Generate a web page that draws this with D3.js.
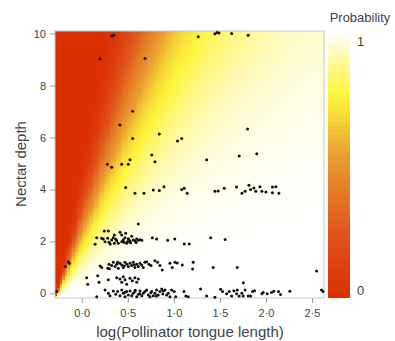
<!DOCTYPE html>
<html>
<head>
<meta charset="utf-8">
<script src="https://cdn.jsdelivr.net/npm/d3@7"></script>
<style>
  body { margin: 0; background: #fff; }
  text { font-family: "Liberation Sans", Arial, sans-serif; fill: #444; }
</style>
</head>
<body>
<svg id="chart" width="395" height="341"></svg>
<script>
// tick values
const xTicks = [0, 0.5, 1, 1.5, 2, 2.5];
const yTicks = [0, 2, 4, 6, 8, 10];

// colour ramp of the probability legend (0 = red, 1 = white)
const colorStops = [0, 0.25, 0.55, 0.68, 0.77, 0.88, 0.96, 1];
const colorValues = ["#dc2f02", "#e0561c", "#eaa030", "#f6d836", "#fff53c", "#fff890", "#fffcd8", "#ffffff"];

// fitted surface: probability as a function of the tongue/depth ratio seen from a corner point
const fitOrigin = [-0.28, -0.15];
const fitScale = 0.338;
const fitShape = 2.76;
const aspect = 3.546;

// observations [log tongue length, nectar depth]
const pointsUpper = [[0.325,9.91],[0.347,9.94],[0.2,9.03],[0.687,9.04],[1.265,9.88],[1.446,9.99],[1.47,10.04],[1.49,10.02],[1.627,10.0],[1.807,9.94],
  [0.553,7.01],[0.415,6.48],[0.553,5.96],[0.842,6.13],[1.04,5.86],[1.085,5.96],[1.8,6.33],[0.76,5.33],[0.795,5.07],[1.356,5.14],[1.71,5.29],[1.9,5.37],
  [0.278,4.97],[0.325,4.85],[0.434,4.97],[0.506,4.97],[0.524,5.14]];
const pointsDepth4 = [[0.477,4.07],[0.578,3.85],[0.676,3.85],[0.777,3.98],[0.842,3.96],[0.893,4.1],[1.085,4.0],[1.113,4.05],[1.145,3.85],
  [1.446,3.93],[1.482,3.94],[1.547,4.05],[1.681,4.09],[1.739,3.85],[1.774,3.93],[1.815,4.16],[1.833,4.0],[1.869,4.06],[1.89,3.93],[1.934,4.1],
  [1.956,3.93],[2.0,3.9],[2.07,4.09],[2.07,3.87],[2.107,4.1],[2.14,3.85]];
const pointsDepth2 = [[0.245,2.4],[0.289,2.4],[0.163,2.14],[0.145,1.89],[0.234,2.09],[0.253,1.99],[0.282,2.12],[0.296,1.97],[0.325,2.05],[0.343,2.14],
  [0.354,1.93],[0.38,2.02],[0.416,2.35],[0.434,2.25],[0.451,2.06],[0.47,2.14],[0.488,1.93],[0.506,2.1],[0.524,2.02],[0.543,2.2],[0.56,2.05],
  [0.578,2.02],[0.597,2.09],[0.615,2.04],[0.633,2.06],[0.652,2.04],[0.434,1.99],[0.397,1.93],[0.354,2.25],[0.477,2.31],[0.614,2.67],[0.217,2.12],
  [0.31,1.9],[0.37,2.08],[0.46,1.97],[0.53,1.95],[0.59,1.96],[0.5,2.0],
  [0.766,2.14],[0.813,2.09],[0.933,2.04],[1.01,2.09],[1.113,1.9],[1.167,1.9],[1.4,2.14],[1.557,2.07]];
const pointsDepth1 = [[-0.18,1.03],[-0.145,1.22],[-0.134,1.16],
  [0.217,0.99],[0.282,0.97],[0.296,1.12],[0.325,1.07],[0.343,1.2],[0.361,1.03],[0.38,1.12],[0.397,0.97],[0.415,1.16],[0.434,1.09],[0.451,0.99],
  [0.47,1.2],[0.488,1.12],[0.506,1.03],[0.524,1.16],[0.543,1.07],[0.56,1.2],[0.578,0.99],[0.597,1.12],[0.615,1.03],[0.633,1.16],[0.652,1.09],
  [0.668,0.99],[0.686,1.2],[0.2,1.05],[0.39,1.2],[0.46,1.05],[0.57,1.1],[0.3,0.95],
  [0.705,1.22],[0.73,1.12],[0.752,1.07],[0.795,1.25],[0.824,1.2],[0.849,1.07],[0.874,0.9],[0.958,1.16],[0.983,0.99],[1.012,1.2],[1.037,1.17],
  [1.091,1.09],[1.21,1.2],[1.204,0.94],[1.427,0.99],[1.688,0.99],[2.55,0.86]];
const pointsDepthHalf = [[0.054,0.6],[0.065,0.35],[0.174,0.68],[0.188,0.43],[0.289,0.52],[0.38,0.6],[0.415,0.55],[0.434,0.43],[0.451,0.64],
  [0.47,0.52],[0.488,0.35],[0.524,0.58],[0.549,0.48],[0.578,0.6],[0.597,0.43],[0.615,0.55],[1.754,0.41]];
const pointsDepth0 = [[-0.27,0.07],
  [0.163,-0.13],[0.253,0.13],[0.289,0.0],[0.307,-0.09],[0.343,0.09],[0.369,-0.04],[0.39,0.07],[0.415,-0.09],[0.434,0.13],[0.451,0.0],[0.47,-0.13],
  [0.488,0.07],[0.506,-0.06],[0.524,0.09],[0.543,-0.09],[0.56,0.0],[0.578,0.07],[0.597,-0.13],[0.615,-0.04],[0.633,0.09],[0.652,-0.09],[0.668,0.0],
  [0.686,0.07],[0.58,0.12],[0.63,-0.02],[0.75,0.02],[0.81,-0.1],[0.88,-0.03],[0.47,0.04],
  [0.705,0.13],[0.722,-0.06],[0.741,-0.13],[0.759,0.07],[0.777,-0.09],[0.795,0.0],[0.813,0.13],[0.831,-0.06],[0.849,0.07],[0.868,0.17],[0.885,0.09],
  [0.904,0.13],[0.922,-0.06],[0.939,0.0],[0.958,-0.13],[0.976,0.13],[1.004,0.07],[1.02,-0.13],
  [1.11,0.07],[1.13,-0.1],[1.156,-0.13],[1.29,0.17],[1.356,-0.1],[1.446,-0.15],[1.508,0.16],[1.529,0.07],[1.573,-0.02],[1.601,0.07],[1.627,-0.1],
  [1.652,0.1],[1.681,-0.02],[1.688,0.13],[1.709,-0.1],[1.738,0.0],[1.752,-0.1],[1.774,0.13],[1.807,-0.1],[1.833,-0.1],[1.855,0.07],[1.876,0.1],
  [1.956,-0.02],[1.97,0.03],[2.013,-0.02],[2.06,0.03],[2.085,0.08],[2.136,0.07],[2.158,-0.05],[2.259,0.08],[2.603,0.13],[2.62,0.07]];

const svg = d3.select("#chart");
const plot = { left: 55, top: 31, right: 324, bottom: 298 };

const x = d3.scaleLinear().domain([-0.29, 2.63]).range([plot.left, plot.right]);
const y = d3.scaleLinear().domain([-0.18, 10.1]).range([plot.bottom, plot.top]);
const color = d3.scaleLinear().domain(colorStops).range(colorValues).clamp(true);

function prob(tx, dy) {
  const u = tx - fitOrigin[0], v = dy - fitOrigin[1];
  if (u <= 0) return 0;
  if (v <= 0) return 1;
  const s = aspect * u / v;
  return Math.exp(-Math.pow(fitScale / s, fitShape));
}

// heat map cells
const nx = 110, ny = 100;
const xs = d3.range(nx).map(i => x.domain()[0] + (i + 0.5) * (x.domain()[1] - x.domain()[0]) / nx);
const ys = d3.range(ny).map(j => y.domain()[0] + (j + 0.5) * (y.domain()[1] - y.domain()[0]) / ny);
const cw = (plot.right - plot.left) / nx, ch = (plot.bottom - plot.top) / ny;
const cells = [];
xs.forEach(a => ys.forEach(b => cells.push([a, b])));

svg.append("g").attr("shape-rendering", "crispEdges")
  .selectAll("rect").data(cells).join("rect")
  .attr("x", d => x(d[0]) - cw / 2)
  .attr("y", d => y(d[1]) - ch / 2)
  .attr("width", cw + 0.6)
  .attr("height", ch + 0.6)
  .attr("fill", d => color(prob(d[0], d[1])));

// frame
svg.append("rect")
  .attr("x", plot.left).attr("y", plot.top)
  .attr("width", plot.right - plot.left).attr("height", plot.bottom - plot.top)
  .attr("fill", "none").attr("stroke", "#c8c8c8").attr("stroke-width", 1);

// axes
const fmt = d => d3.format(".1f")(d).replace(".", "·");
const gx = svg.append("g").attr("transform", `translate(0,${plot.bottom})`)
  .call(d3.axisBottom(x).tickValues(xTicks).tickSize(5).tickPadding(6).tickFormat(fmt));
const gy = svg.append("g").attr("transform", `translate(${plot.left},0)`)
  .call(d3.axisLeft(y).tickValues(yTicks).tickSize(5).tickPadding(4).tickFormat(d3.format("d")));
[gx, gy].forEach(g => {
  g.select(".domain").remove();
  g.selectAll(".tick line").attr("stroke", "#999");
  g.selectAll(".tick text").attr("fill", "#444").style("font-size", "11px")
    .style("font-family", "'Liberation Sans', Arial, sans-serif");
});

// points
const allPoints = [].concat(pointsUpper, pointsDepth4, pointsDepth2, pointsDepth1, pointsDepthHalf, pointsDepth0);
svg.append("g").selectAll("circle").data(allPoints).join("circle")
  .attr("cx", d => x(d[0])).attr("cy", d => y(d[1]))
  .attr("r", 1.5).attr("fill", "#111");

// axis titles
svg.append("text").attr("x", 190).attr("y", 337).attr("text-anchor", "middle")
  .style("font-size", "15px").text("log(Pollinator tongue length)");
svg.append("text").attr("transform", "translate(26,164) rotate(-90)").attr("text-anchor", "middle")
  .style("font-size", "15px").text("Nectar depth");

// legend colour bar
const leg = { left: 328, width: 22, top: 33, bottom: 297 };
const ly = d3.scaleLinear().domain([0, 1]).range([leg.bottom, leg.top]);
const bands = d3.range(0, 1, 1 / 60);
svg.append("g").attr("shape-rendering", "crispEdges")
  .selectAll("rect").data(bands).join("rect")
  .attr("x", leg.left).attr("width", leg.width)
  .attr("y", d => ly(d + 1 / 60))
  .attr("height", d => ly(d) - ly(d + 1 / 60) + 0.5)
  .attr("fill", d => color(d + 0.5 / 60));
svg.append("text").attr("x", 360).attr("y", 22).attr("text-anchor", "middle")
  .style("font-size", "13px").text("Probability");
svg.append("text").attr("x", 357).attr("y", 46).style("font-size", "13px").text("1");
svg.append("text").attr("x", 357).attr("y", 295).style("font-size", "13px").text("0");
</script>
</body>
</html>
